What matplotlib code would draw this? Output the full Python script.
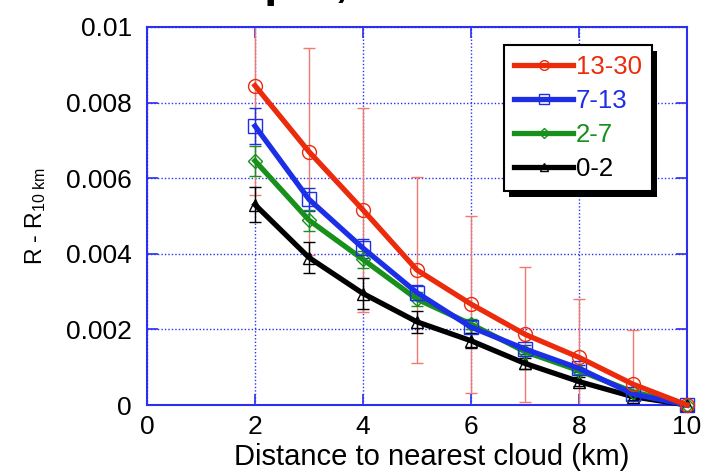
import matplotlib
matplotlib.use("Agg")
import matplotlib.pyplot as plt
import matplotlib.patheffects as pe

plt.rcParams['font.family'] = ['Liberation Sans', 'DejaVu Sans']
plt.rcParams['mathtext.fontset'] = 'custom'
plt.rcParams['mathtext.rm'] = 'Liberation Sans'
plt.rcParams['mathtext.it'] = 'Liberation Sans'

# Distance to nearest cloud (km)
distance = [2, 3, 4, 5, 6, 7, 8, 9, 10]

# Reflectance increase relative to 10 km, per cloud optical thickness bin
r_13_30 = [0.00845, 0.0067, 0.00516, 0.00357, 0.00267, 0.00187, 0.00126, 0.00055, 0.0]
r_7_13 = [0.00738, 0.00544, 0.00415, 0.00297, 0.00206, 0.00148, 0.00097, 0.00029, 0.0]
r_2_7 = [0.00646, 0.00489, 0.00385, 0.0028, 0.00214, 0.00141, 0.00091, 0.00035, 0.0]
r_0_2 = [0.0053, 0.0039, 0.00295, 0.0022, 0.0017, 0.0011, 0.00062, 0.00022, 0.0]

# Error bar half-widths
e_13_30 = [0.0029, 0.00274, 0.0027, 0.00247, 0.00234, 0.00179, 0.00154, 0.00143, 0.0]
e_7_13 = [0.00047, 0.0003, 0.00025, 0.0002, 0.00015, 0.00012, 0.0001, 0.00008, 0.0]
e_2_7 = [0.0004, 0.00028, 0.00022, 0.00018, 0.00014, 0.0001, 0.00008, 0.00006, 0.0]
e_0_2 = [0.00046, 0.0004, 0.0004, 0.0003, 0.0002, 0.00015, 0.00012, 0.00008, 0.0]

labels = ['13-30', '7-13', '2-7', '0-2']
colors = ['#ec2a0c', '#1c2ee6', '#17901c', '#000000']
err_colors = ['#f07a70', '#1c2ee6', '#17901c', '#000000']
markers = ['o', 's', 'D', '^']
msizes = [10, 10, 7, 8]

xticks = [0, 2, 4, 6, 8, 10]
yticks = [0, 0.002, 0.004, 0.006, 0.008, 0.01]
ytick_labels = ['0', '0.002', '0.004', '0.006', '0.008', '0.01']

fig = plt.figure(figsize=(7.04, 4.72), dpi=100)
ax = fig.add_axes([0.2088, 0.1419, 0.9759 - 0.2088, 0.9428 - 0.1419])

axis_blue = '#2a2ff0'
series = [(r_13_30, e_13_30), (r_7_13, e_7_13), (r_2_7, e_2_7), (r_0_2, e_0_2)]

for (vals, errs), ec in zip(series, err_colors):
    ax.errorbar(distance, vals, yerr=errs, fmt='none', ecolor=ec, elinewidth=1.0,
                capsize=4, capthick=1.0, zorder=2)

handles = []
for (vals, errs), lab, c, m, ms in reversed(list(zip(series, labels, colors, markers, msizes))):
    h, = ax.plot(distance, vals, color=c, lw=3.8, marker=m, ms=ms, mfc='none',
                 mec=c, mew=1.0, zorder=3, clip_on=False, label=lab)
    handles.append(h)
handles = handles[::-1]

ax.set_xlim(0, 10)
ax.set_ylim(0, 0.01)
ax.set_xticks(xticks)
ax.set_yticks(yticks)
ax.set_yticklabels(ytick_labels)
ax.tick_params(direction='in', length=8, width=1.2, color=axis_blue,
               top=True, right=True, labelsize=19)
ax.tick_params(axis='y', pad=11)
ax.tick_params(axis='x', pad=7)
ax.grid(True, color=axis_blue, linestyle=(0, (1, 1.5)), linewidth=1.0)
ax.set_axisbelow(True)
for s in ax.spines.values():
    s.set_color(axis_blue)
    s.set_linewidth(1.5)

ax.set_xlabel('Distance to nearest cloud (km)', fontsize=21, labelpad=3)
ax.xaxis.label.set_x(0.528)
ax.set_ylabel(r'R - R$_{\mathrm{10\ km}}$', fontsize=16.5, labelpad=13)

leg = ax.legend(handles=handles, labels=labels, loc='upper right',
                bbox_to_anchor=(0.935, 0.952), borderaxespad=0, fontsize=18.5,
                frameon=True, framealpha=1.0, fancybox=False, handlelength=2.3,
                handletextpad=0.1, labelspacing=0.38, borderpad=0.4,
                markerscale=0.7)
frame = leg.get_frame()
frame.set_facecolor('white')
frame.set_edgecolor('black')
frame.set_linewidth(1.5)
frame.set_path_effects([pe.SimplePatchShadow(offset=(4, -4), shadow_rgbFace='black', alpha=1.0),
                        pe.Normal()])
for t, c in zip(leg.get_texts(), colors):
    t.set_color(c)

# Panel heading sits above the top edge; only its descenders fall inside the figure
fig.text(0.226, 1.0085, '0.47 \u03bcm,', fontsize=34, fontweight='bold', ha='left', va='baseline')

fig.savefig('out.png', dpi=100)
